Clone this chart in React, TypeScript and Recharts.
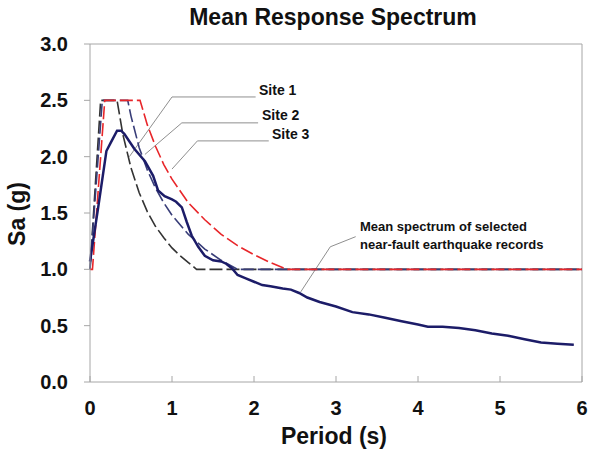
import React from 'react';
import { LineChart, Line, XAxis, YAxis, ReferenceLine } from 'recharts';

// Site 1 design spectrum (black dashed)
const site1T = [0, 0.13, 0.33, 0.4, 0.5, 0.6, 0.7, 0.8, 0.9, 1.0, 1.1, 1.2, 1.3, 6];
const site1Sa = [1.0, 2.5, 2.5, 2.2, 1.9, 1.68, 1.51, 1.38, 1.28, 1.19, 1.12, 1.06, 1.0, 1.0];

// Site 2 design spectrum (navy dashed)
const site2T = [0, 0.15, 0.46, 0.5, 0.6, 0.7, 0.8, 0.9, 1.0, 1.2, 1.4, 1.6, 1.8, 6];
const site2Sa = [1.0, 2.5, 2.5, 2.36, 2.08, 1.88, 1.72, 1.59, 1.48, 1.31, 1.18, 1.08, 1.0, 1.0];

// Site 3 design spectrum (red dashed)
const site3T = [0, 0.03, 0.18, 0.61, 0.7, 0.8, 0.9, 1.0, 1.2, 1.4, 1.6, 1.8, 2.0, 2.2, 2.4, 6];
const site3Sa = [1.0, 1.0, 2.5, 2.5, 2.28, 2.09, 1.93, 1.8, 1.59, 1.44, 1.31, 1.21, 1.13, 1.06, 1.0, 1.0];

// mean spectrum of the selected records
const meanT = [
  0, 0.1, 0.2, 0.25, 0.33, 0.38, 0.42, 0.54, 0.67, 0.77, 0.83, 0.91, 1.0, 1.05, 1.12, 1.18,
  1.24, 1.32, 1.4, 1.5, 1.6, 1.66, 1.73, 1.8, 1.9, 2.0, 2.1, 2.2, 2.35, 2.45, 2.55, 2.65,
  2.8, 3.0, 3.2, 3.4, 3.6, 3.8, 4.0, 4.12, 4.3, 4.5, 4.7, 4.9, 5.1, 5.3, 5.5, 5.7, 5.9,
];
const meanSa = [
  1.07, 1.55, 2.05, 2.12, 2.23, 2.23, 2.2, 2.07, 1.96, 1.83, 1.7, 1.65, 1.62, 1.6, 1.55, 1.42,
  1.3, 1.2, 1.12, 1.08, 1.07, 1.05, 1.01, 0.95, 0.92, 0.89, 0.86, 0.85, 0.83, 0.82, 0.79, 0.75,
  0.71, 0.67, 0.62, 0.6, 0.57, 0.54, 0.51, 0.49, 0.49, 0.48, 0.46, 0.43, 0.41, 0.38, 0.35, 0.34, 0.33,
];

const xTicks = [0, 1, 2, 3, 4, 5, 6];
const yTicks = [0, 0.5, 1.0, 1.5, 2.0, 2.5, 3.0];

const toPoints = (ts: number[], vals: number[]) => ts.map((t, i) => ({ t, sa: vals[i] }));

const FONT = 'Arial, "Liberation Sans", Helvetica, sans-serif';
const AXIS_GRAY = '#a6a6a6';
const LEADER = '#8f8f8f';
const INK = '#111';

export default function App() {
  const site1 = toPoints(site1T, site1Sa);
  const site2 = toPoints(site2T, site2Sa);
  const site3 = toPoints(site3T, site3Sa);
  const mean = toPoints(meanT, meanSa);

  return (
    <div style={{ position: 'absolute', left: 0, top: 0, background: '#fff' }}>
      <LineChart
        width={589}
        height={450}
        margin={{ top: 44, right: 7, left: 0, bottom: 28 }}
        style={{ fontFamily: FONT }}
      >
        <XAxis
          dataKey="t"
          type="number"
          domain={[0, 6]}
          ticks={xTicks}
          height={40}
          stroke={AXIS_GRAY}
          tickSize={-6}
          tickMargin={25}
          tick={{ fill: INK, fontSize: 20, fontWeight: 'bold', fontFamily: FONT }}
        />
        <YAxis
          type="number"
          domain={[0, 3]}
          ticks={yTicks}
          width={90}
          stroke={AXIS_GRAY}
          tickSize={6}
          tickMargin={16}
          tickFormatter={(v: number) => v.toFixed(1)}
          tick={{ fill: INK, fontSize: 20, fontWeight: 'bold', fontFamily: FONT }}
        />

        {/* plot frame top and right */}
        <ReferenceLine y={3} stroke={AXIS_GRAY} />
        <ReferenceLine x={6} stroke={AXIS_GRAY} />

        {/* leader lines */}
        <ReferenceLine segment={[{ x: 2.02, y: 2.53 }, { x: 1.0, y: 2.53 }]} stroke={LEADER} />
        <ReferenceLine segment={[{ x: 1.0, y: 2.53 }, { x: 0.48, y: 2.0 }]} stroke={LEADER} />
        <ReferenceLine segment={[{ x: 2.05, y: 2.3 }, { x: 1.12, y: 2.3 }]} stroke={LEADER} />
        <ReferenceLine segment={[{ x: 1.12, y: 2.3 }, { x: 0.67, y: 2.02 }]} stroke={LEADER} />
        <ReferenceLine segment={[{ x: 2.18, y: 2.14 }, { x: 1.31, y: 2.14 }]} stroke={LEADER} />
        <ReferenceLine segment={[{ x: 1.31, y: 2.14 }, { x: 1.0, y: 1.89 }]} stroke={LEADER} />
        <ReferenceLine segment={[{ x: 3.24, y: 1.29 }, { x: 2.93, y: 1.2 }]} stroke={LEADER} />
        <ReferenceLine segment={[{ x: 2.93, y: 1.2 }, { x: 2.57, y: 0.8 }]} stroke={LEADER} />

        <Line
          data={site1}
          dataKey="sa"
          type="linear"
          stroke="#333333"
          strokeWidth={1.6}
          strokeDasharray="13 4"
          dot={false}
          isAnimationActive={false}
        />
        <Line
          data={site2}
          dataKey="sa"
          type="linear"
          stroke="#383d78"
          strokeWidth={1.6}
          strokeDasharray="13 4"
          dot={false}
          isAnimationActive={false}
        />
        <Line
          data={site3}
          dataKey="sa"
          type="linear"
          stroke="#e8262a"
          strokeWidth={1.6}
          strokeDasharray="13 4"
          dot={false}
          isAnimationActive={false}
        />
        <Line
          data={mean}
          dataKey="sa"
          type="linear"
          stroke="#1c1c68"
          strokeWidth={2.5}
          dot={false}
          isAnimationActive={false}
        />

        <text x={333} y={25} textAnchor="middle" fontSize={23} fontWeight="bold" fill={INK} fontFamily={FONT}>
          Mean Response Spectrum
        </text>
        <text
          x={25}
          y={214}
          transform="rotate(-90, 25, 214)"
          textAnchor="middle"
          fontSize={23}
          fontWeight="bold"
          fill={INK}
          fontFamily={FONT}
        >
          Sa (g)
        </text>
        <text x={334} y={444} textAnchor="middle" fontSize={23} fontWeight="bold" fill={INK} fontFamily={FONT}>
          Period (s)
        </text>
        <text x={259} y={95} fontSize={14} fontWeight="bold" fill={INK} fontFamily={FONT}>Site 1</text>
        <text x={262} y={120} fontSize={14} fontWeight="bold" fill={INK} fontFamily={FONT}>Site 2</text>
        <text x={272} y={139} fontSize={14} fontWeight="bold" fill={INK} fontFamily={FONT}>Site 3</text>
        <text x={360} y={231} fontSize={13} fontWeight="bold" fill={INK} fontFamily={FONT}>
          Mean spectrum of selected
        </text>
        <text x={360} y={249} fontSize={13} fontWeight="bold" fill={INK} fontFamily={FONT}>
          near-fault earthquake records
        </text>
      </LineChart>
    </div>
  );
}
